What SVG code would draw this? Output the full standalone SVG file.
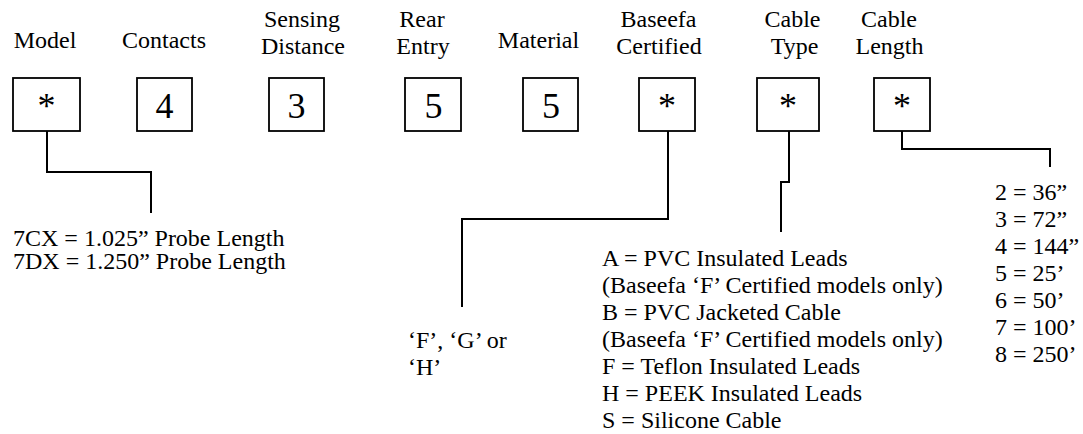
<svg xmlns="http://www.w3.org/2000/svg" width="1083" height="434" viewBox="0 0 1083 434">
<style>
text{font-family:"Liberation Serif","Times New Roman",serif;fill:#000}
.lbl{font-size:24px;text-anchor:middle}
.val{font-size:36px;text-anchor:middle}
.txt{font-size:24px}
.box{fill:#fff;stroke:#000;stroke-width:1.8}
.conn path{fill:none;stroke:#000;stroke-width:2}
</style>
<rect width="1083" height="434" fill="#fff"/>
<g id="model"><text class="lbl" x="45" y="48">Model</text><rect class="box" x="13" y="78" width="67" height="53"/><text class="val" x="46.5" y="118">*</text></g>
<g id="contacts"><text class="lbl" x="164" y="48">Contacts</text><rect class="box" x="137" y="78" width="55" height="53"/><text class="val" x="164.5" y="118">4</text></g>
<g id="sensing"><text class="lbl" x="302" y="27">Sensing</text><text class="lbl" x="303" y="54">Distance</text><rect class="box" x="269" y="78" width="55" height="53"/><text class="val" x="296.5" y="118">3</text></g>
<g id="rear"><text class="lbl" x="422" y="27">Rear</text><text class="lbl" x="423" y="54">Entry</text><rect class="box" x="405" y="78" width="56" height="53"/><text class="val" x="433.5" y="118">5</text></g>
<g id="material"><text class="lbl" x="538.5" y="48">Material</text><rect class="box" x="523" y="78" width="55" height="53"/><text class="val" x="551" y="118">5</text></g>
<g id="baseefa"><text class="lbl" x="658.5" y="27">Baseefa</text><text class="lbl" x="659" y="54">Certified</text><rect class="box" x="639" y="78" width="56" height="53"/><text class="val" x="667" y="118">*</text></g>
<g id="cabletype"><text class="lbl" x="792.5" y="27">Cable</text><text class="lbl" x="794.5" y="54">Type</text><rect class="box" x="757" y="78" width="62" height="53"/><text class="val" x="788" y="118">*</text></g>
<g id="cablelength"><text class="lbl" x="889" y="27">Cable</text><text class="lbl" x="889.5" y="54">Length</text><rect class="box" x="874" y="78" width="56" height="53"/><text class="val" x="902" y="118">*</text></g>
<g class="conn" id="connectors">
<path d="M47,131 V172 H151 V213"/>
<path d="M668,131 V219 H462 V307"/>
<path d="M789,131 V182 H781 V232"/>
<path d="M902,131 V149 H1050 V167"/>
</g>
<g id="model-options"><text class="txt" x="13" y="246">7CX = 1.025” Probe Length</text><text class="txt" x="13" y="269">7DX = 1.250” Probe Length</text></g>
<g id="baseefa-options"><text class="txt" x="408" y="348">‘F’, ‘G’ or</text><text class="txt" x="408" y="375">‘H’</text></g>
<g id="cabletype-options">
<text class="txt" x="602" y="266">A = PVC Insulated Leads</text>
<text class="txt" x="602" y="293">(Baseefa ‘F’ Certified models only)</text>
<text class="txt" x="602" y="320">B = PVC Jacketed Cable</text>
<text class="txt" x="602" y="347">(Baseefa ‘F’ Certified models only)</text>
<text class="txt" x="602" y="374">F = Teflon Insulated Leads</text>
<text class="txt" x="602" y="401">H = PEEK Insulated Leads</text>
<text class="txt" x="602" y="428">S = Silicone Cable</text>
</g>
<g id="cablelength-options">
<text class="txt" x="995" y="200">2 = 36”</text>
<text class="txt" x="995" y="227">3 = 72”</text>
<text class="txt" x="995" y="254">4 = 144”</text>
<text class="txt" x="995" y="281">5 = 25’</text>
<text class="txt" x="995" y="308">6 = 50’</text>
<text class="txt" x="995" y="335">7 = 100’</text>
<text class="txt" x="995" y="362">8 = 250’</text>
</g>
</svg>
